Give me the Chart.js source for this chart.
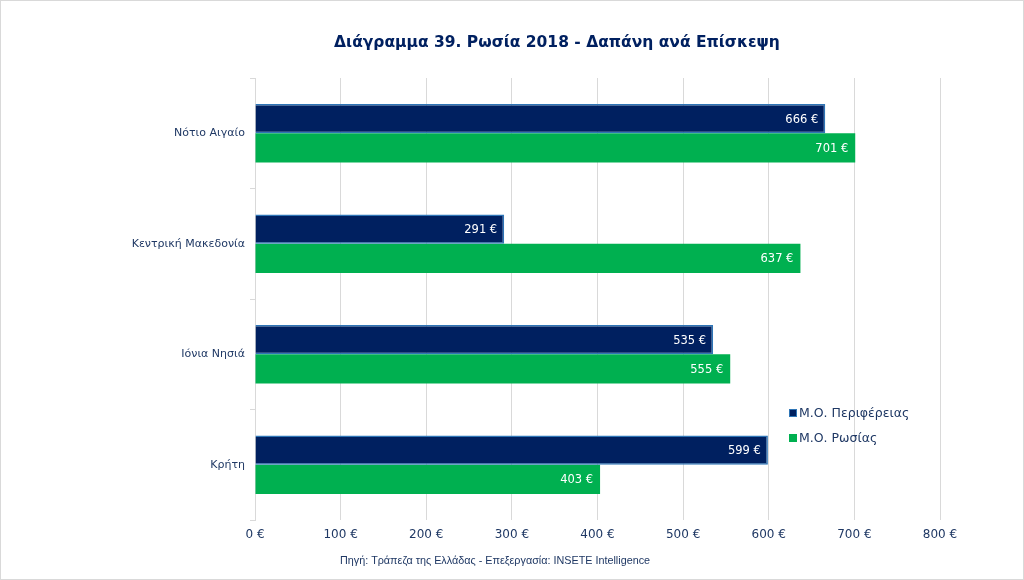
<!DOCTYPE html>
<html>
<head>
<meta charset="utf-8">
<script src="https://cdn.jsdelivr.net/npm/chart.js@4/dist/chart.umd.min.js"></script>
<style>
html,body{margin:0;padding:0;background:#fff;}
#wrap{width:1024px;height:580px;position:relative;box-sizing:border-box;}
canvas{display:block;}
</style>
</head>
<body>
<div id="wrap"><canvas id="c" width="1024" height="580"></canvas></div>
<script>
const categories = ["Νότιο Αιγαίο", "Κεντρική Μακεδονία", "Ιόνια Νησιά", "Κρήτη"];
const seriesNames = ["Μ.Ο. Περιφέρειας", "Μ.Ο. Ρωσίας"];
const regionAvg = [666, 291, 535, 599];
const russiaAvg = [701, 637, 555, 403];
const xTicks = [0, 100, 200, 300, 400, 500, 600, 700, 800];
const titleText = "Διάγραμμα 39. Ρωσία 2018 - Δαπάνη ανά Επίσκεψη";
const sourceText = "Πηγή: Τράπεζα της Ελλάδας - Επεξεργασία: INSETE Intelligence";

const NAVY = "#002060", GREEN = "#00b050", TEXT = "#1f3864", GRID = "#d9d9d9";
const FONT = "'DejaVu Sans', Verdana, sans-serif";

const labelPlugin = {
  id: 'barLabels',
  afterDatasetsDraw(chart) {
    const ctx = chart.ctx;
    ctx.save();
    ctx.font = "11.5px " + FONT;
    ctx.fillStyle = "#ffffff";
    ctx.textAlign = "right";
    ctx.textBaseline = "middle";
    chart.data.datasets.forEach((ds, di) => {
      const meta = chart.getDatasetMeta(di);
      meta.data.forEach((bar, i) => {
        ctx.fillText(ds.data[i] + " €", bar.x - 7, bar.y + 1);
      });
    });
    ctx.restore();
  }
};

const textPlugin = {
  id: 'texts',
  afterDraw(chart) {
    const ctx = chart.ctx;
    ctx.save();
    ctx.textAlign = "center";
    ctx.textBaseline = "middle";
    ctx.fillStyle = NAVY;
    ctx.font = "bold 15.5px " + FONT;
    ctx.fillText(titleText, 557, 43);
    ctx.fillStyle = TEXT;
    ctx.font = "10.8px 'Liberation Sans', Arial, sans-serif";
    ctx.fillText(sourceText, 495, 561);
    ctx.restore();
  }
};

const legendPlugin = {
  id: 'customLegend',
  afterDraw(chart) {
    const ctx = chart.ctx;
    ctx.save();
    ctx.font = "12.5px " + FONT;
    ctx.textBaseline = "middle";
    ctx.textAlign = "left";
    const x0 = 789, ys = [413, 438];
    chart.data.datasets.forEach((ds, di) => {
      ctx.fillStyle = ds.backgroundColor;
      ctx.fillRect(x0, ys[di] - 4, 8, 8);
      if (di === 0) { ctx.strokeStyle = "#2e75b6"; ctx.lineWidth = 1; ctx.strokeRect(x0 + 0.5, ys[di] - 3.5, 7, 7); }
      ctx.fillStyle = TEXT;
      ctx.fillText(ds.label, x0 + 10, ys[di] + 1);
    });
    ctx.restore();
  }
};

const framePlugin = {
  id: 'frame',
  afterDraw(chart) {
    const ctx = chart.ctx;
    ctx.save();
    ctx.strokeStyle = "#d9d9d9";
    ctx.lineWidth = 1;
    ctx.strokeRect(0.5, 0.5, chart.width - 1, chart.height - 1);
    ctx.restore();
  }
};

new Chart(document.getElementById('c'), {
  type: 'bar',
  data: {
    labels: categories,
    datasets: [
      { label: seriesNames[0], data: regionAvg, backgroundColor: NAVY, borderColor: "#2e75b6", borderWidth: 1.5, borderSkipped: 'start', categoryPercentage: 0.53, barPercentage: 1.0 },
      { label: seriesNames[1], data: russiaAvg, backgroundColor: GREEN, borderWidth: 0, categoryPercentage: 0.53, barPercentage: 1.0 }
    ]
  },
  options: {
    indexAxis: 'y',
    responsive: false,
    animation: false,
    layout: { padding: { left: 0, right: 84, top: 78, bottom: 33 } },
    plugins: {
      legend: { display: false },
      tooltip: { enabled: false },
      title: { display: false },
      subtitle: { display: false }
    },
    scales: {
      x: {
        min: 0, max: 800,
        afterBuildTicks: (s) => { s.ticks = xTicks.map(v => ({ value: v })); },
        afterFit: (s) => { s.height = 27; },
        ticks: { callback: (v) => v + " €", color: TEXT, font: { family: FONT, size: 12 }, padding: 8, maxRotation: 0 },
        grid: { color: GRID, lineWidth: 1, drawTicks: false },
        border: { display: false }
      },
      y: {
        afterFit: (s) => { s.width = 255; },
        ticks: { color: TEXT, font: { family: FONT, size: 11 }, padding: 5 },
        grid: { display: true, drawOnChartArea: false, color: GRID, tickLength: 5, offset: true },
        border: { display: true, color: GRID }
      }
    }
  },
  plugins: [labelPlugin, textPlugin, legendPlugin, framePlugin]
});
</script>
</body>
</html>
